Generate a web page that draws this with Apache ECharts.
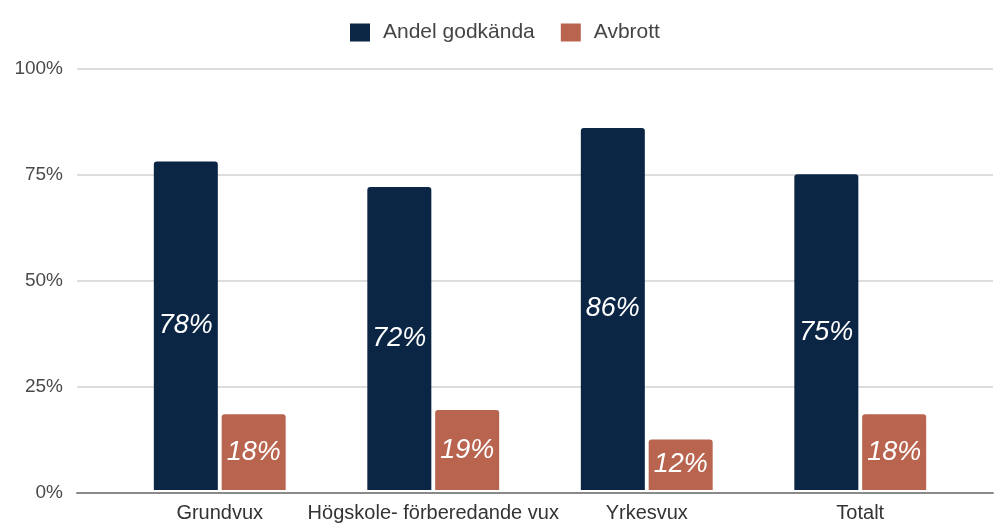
<!DOCTYPE html>
<html>
<head>
<meta charset="utf-8">
<script src="https://cdn.jsdelivr.net/npm/echarts@6/dist/echarts.min.js"></script>
<style>
html,body{margin:0;padding:0;background:#fff;}
#chart{width:994px;height:523px;}
</style>
</head>
<body>
<div id="chart"></div>
<script>
const categories = ['Grundvux', 'Högskole- förberedande vux', 'Yrkesvux', 'Totalt'];
const seriesNames = ['Andel godkända', 'Avbrott'];
const godkanda = [78, 72, 86, 75];
const avbrott = [18, 19, 12, 18];
const yTicks = [0, 25, 50, 75, 100];

const FONT = '"Liberation Sans", Arial, sans-serif';
const chart = echarts.init(document.getElementById('chart'));

const labelStyle = {
  show: true,
  position: 'inside',
  formatter: p => p.value + '%',
  color: '#ffffff',
  fontStyle: 'italic',
  fontSize: 27,
  fontFamily: FONT
};

chart.setOption({
  animation: false,
  legend: {
    data: seriesNames,
    top: 17,
    left: 345,
    itemWidth: 20,
    itemHeight: 18,
    itemGap: 26,
    textStyle: { fontSize: 21, color: '#444', fontFamily: FONT, padding: [0, 0, 0, 8] },
    icon: 'rect'
  },
  grid: [
    { left: 77, right: 1, top: 69, bottom: 30 },
    { left: 113, right: 27, top: 69, bottom: 30 }
  ],
  xAxis: [
    { gridIndex: 0, type: 'value', min: 0, max: 1, show: true,
      axisLine: { show: true, onZero: false, lineStyle: { color: '#8a8a8a', width: 2 } },
      axisTick: { show: false }, axisLabel: { show: false }, splitLine: { show: false } },
    { gridIndex: 1, type: 'category', data: categories,
      axisLine: { show: false }, axisTick: { show: false },
      axisLabel: { fontSize: 20, color: '#333', fontFamily: FONT, margin: 13, interval: 0 } }
  ],
  yAxis: [
    { gridIndex: 0, type: 'value', min: 0, max: 100, interval: 25,
      axisLine: { show: false }, axisTick: { show: false },
      axisLabel: { formatter: v => yTicks.includes(v) ? v + '%' : '', fontSize: 19, color: '#4a4a4a', fontFamily: FONT, margin: 14 },
      splitLine: { lineStyle: { color: '#dddddd', width: 2 } } },
    { gridIndex: 1, type: 'value', min: 0, max: 100, interval: 25, show: false, splitLine: { show: false } }
  ],
  series: [
    { name: seriesNames[0], type: 'bar', xAxisIndex: 1, yAxisIndex: 1, data: godkanda,
      barWidth: 64, barGap: '6%', itemStyle: { color: '#0b2545', borderRadius: [3, 3, 0, 0] }, label: labelStyle },
    { name: seriesNames[1], type: 'bar', xAxisIndex: 1, yAxisIndex: 1, data: avbrott,
      barWidth: 64, barGap: '6%', itemStyle: { color: '#b8644f', borderRadius: [3, 3, 0, 0] }, label: labelStyle }
  ]
});
</script>
</body>
</html>
